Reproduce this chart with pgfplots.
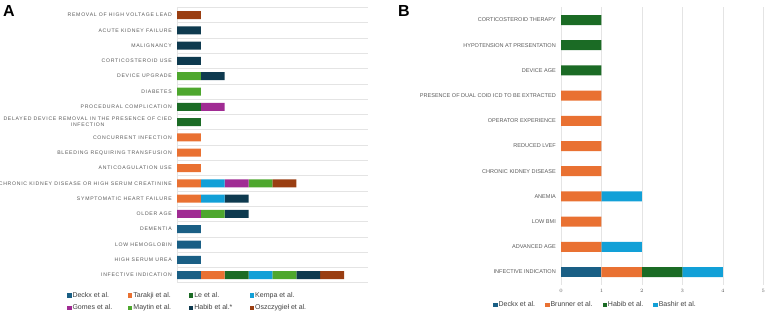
\documentclass[border=0pt]{standalone}
\usepackage{fontspec}
\setmainfont{Liberation Sans}
\newfontfamily\spaced[LetterSpace=14]{Liberation Sans}
\usepackage{pgfplots}
\usepackage{pgfplotstable}
\pgfplotsset{compat=1.18}
\definecolor{cDeckx}{HTML}{1A5F85}
\definecolor{cOrange}{HTML}{E97132}
\definecolor{cLe}{HTML}{1B6B25}
\definecolor{cKempa}{HTML}{12A0D7}
\definecolor{cGomes}{HTML}{A02B93}
\definecolor{cMaytin}{HTML}{4EA72E}
\definecolor{cHabib}{HTML}{0E3A4F}
\definecolor{cOsz}{HTML}{9A3E12}
\definecolor{labgray}{HTML}{595959}
\definecolor{leggray}{HTML}{404040}
\definecolor{gridgray}{HTML}{E4E4E4}

\pgfplotstableread{
y D T L K G M H O
0 1 1 1 1 0 1 1 1
1 1 0 0 0 0 0 0 0
2 1 0 0 0 0 0 0 0
3 1 0 0 0 0 0 0 0
4 0 0 0 0 1 1 1 0
5 0 1 0 1 0 0 1 0
6 0 1 0 1 1 1 0 1
7 0 1 0 0 0 0 0 0
8 0 1 0 0 0 0 0 0
9 0 1 0 0 0 0 0 0
10 0 0 1 0 0 0 0 0
11 0 0 1 0 1 0 0 0
12 0 0 0 0 0 1 0 0
13 0 0 0 0 0 1 1 0
14 0 0 0 0 0 0 1 0
15 0 0 0 0 0 0 1 0
16 0 0 0 0 0 0 1 0
17 0 0 0 0 0 0 0 1
}\tabA

\pgfplotstableread{
y D B H S
0 1 1 1 1
1 0 1 0 1
2 0 1 0 0
3 0 1 0 1
4 0 1 0 0
5 0 1 0 0
6 0 1 0 0
7 0 1 0 0
8 0 0 1 0
9 0 0 1 0
10 0 0 1 0
}\tabB

\begin{document}
\begin{tikzpicture}
\useasboundingbox (0pt,0pt) rectangle (765pt,-311pt);
\node[anchor=north west,inner sep=0pt,font=\fontsize{16}{16}\selectfont\bfseries] at (3pt,-5pt) {A};
\node[anchor=north west,inner sep=0pt,font=\fontsize{16}{16}\selectfont\bfseries] at (398pt,-5pt) {B};

\begin{axis}[
  at={(177pt,-282.75pt)}, anchor=south west,
  scale only axis, width=191pt, height=275.4pt,
  xbar stacked, bar width=8pt,
  xmin=0, xmax=8, ymin=-0.5, ymax=17.5,
  axis lines*=left,
  x axis line style={draw=none},
  y axis line style={draw=gridgray},
  xtick=\empty,
  ytick={0,...,17},
  yticklabels={INFECTIVE INDICATION, HIGH SERUM UREA, LOW HEMOGLOBIN, DEMENTIA, OLDER AGE, SYMPTOMATIC HEART FAILURE, CHRONIC KIDNEY DISEASE OR HIGH SERUM CREATININE, ANTICOAGULATION USE, BLEEDING REQUIRING TRANSFUSION, CONCURRENT INFECTION, {DELAYED DEVICE REMOVAL IN THE PRESENCE OF CIED\\INFECTION}, PROCEDURAL COMPLICATION, DIABETES, DEVICE UPGRADE, CORTICOSTEROID USE, MALIGNANCY, ACUTE KIDNEY FAILURE, REMOVAL OF HIGH VOLTAGE LEAD},
  yticklabel style={font=\spaced\fontsize{5.15}{6}\selectfont, text=labgray, align=center, inner xsep=0pt, xshift=-5pt},
  major tick length=0pt,
  minor ytick={-0.5,0.5,...,17.5},
  yminorgrids, minor grid style={draw=gridgray, line width=0.6pt},
  minor tick length=0pt,
  every axis plot/.append style={draw=none},
  legend columns=4,
  legend style={at={(axis description cs:-0.592,-0.022)}, anchor=north west, draw=none, fill=none,
    font=\fontsize{7}{8}\selectfont, text=leggray, row sep=4pt,
    /tikz/every odd column/.append style={column sep=0pt},
    /tikz/every even column/.append style={column sep=0pt},
    nodes={inner xsep=1pt, inner ysep=1pt}},
  legend cell align=left,
  legend image code/.code={\fill[#1] (0pt,-2.2pt) rectangle (4.4pt,2.2pt);},
]
\addplot[fill=cDeckx] table[x=D,y=y] {\tabA}; \addlegendentry{\makebox[54.5pt][l]{Deckx et al.}}
\addplot[fill=cOrange] table[x=T,y=y] {\tabA}; \addlegendentry{\makebox[54.5pt][l]{Tarakji et al.}}
\addplot[fill=cLe] table[x=L,y=y] {\tabA}; \addlegendentry{\makebox[54.5pt][l]{Le et al.}}
\addplot[fill=cKempa] table[x=K,y=y] {\tabA}; \addlegendentry{\makebox[54.5pt][l]{Kempa et al.}}
\addplot[fill=cGomes] table[x=G,y=y] {\tabA}; \addlegendentry{\makebox[54.5pt][l]{Gomes et al.}}
\addplot[fill=cMaytin] table[x=M,y=y] {\tabA}; \addlegendentry{\makebox[54.5pt][l]{Maytin et al.}}
\addplot[fill=cHabib] table[x=H,y=y] {\tabA}; \addlegendentry{\makebox[54.5pt][l]{Habib et al.*}}
\addplot[fill=cOsz] table[x=O,y=y] {\tabA}; \addlegendentry{\makebox[54.5pt][l]{Oszczygieł et al.}}
\end{axis}

\begin{axis}[
  at={(561pt,-284.6pt)}, anchor=south west,
  scale only axis, width=202.3pt, height=277.2pt,
  xbar stacked, bar width=10pt,
  xmin=0, xmax=5, ymin=-0.5, ymax=10.5,
  axis line style={draw=none},
  xtick={0,...,5},
  xmajorgrids, major grid style={draw=gridgray, line width=0.6pt},
  xticklabel style={font=\fontsize{4}{5}\selectfont, text=labgray, yshift=-1pt},
  ytick={0,...,10},
  yticklabels={INFECTIVE INDICATION, ADVANCED AGE, LOW BMI, ANEMIA, CHRONIC KIDNEY DISEASE, REDUCED LVEF, OPERATOR EXPERIENCE, PRESENCE OF DUAL COID ICD TO BE EXTRACTED, DEVICE AGE, HYPOTENSION AT PRESENTATION, CORTICOSTEROID THERAPY},
  yticklabel style={font=\fontsize{5.55}{6}\selectfont, text=labgray, inner xsep=0pt, xshift=-5pt},
  major tick length=0pt,
  every axis plot/.append style={draw=none},
  legend columns=4,
  legend style={at={(axis description cs:-0.351,-0.05)}, anchor=north west, draw=none, fill=none,
    font=\fontsize{7}{8}\selectfont, text=leggray,
    /tikz/every even column/.append style={column sep=9pt},
    nodes={inner xsep=1pt, inner ysep=1pt}},
  legend image code/.code={\fill[#1] (0pt,-2.2pt) rectangle (4.4pt,2.2pt);},
]
\addplot[fill=cDeckx] table[x=D,y=y] {\tabB}; \addlegendentry{Deckx et al.}
\addplot[fill=cOrange] table[x=B,y=y] {\tabB}; \addlegendentry{Brunner et al.}
\addplot[fill=cLe] table[x=H,y=y] {\tabB}; \addlegendentry{Habib et al.}
\addplot[fill=cKempa] table[x=S,y=y] {\tabB}; \addlegendentry{Bashir et al.}
\end{axis}
\end{tikzpicture}
\end{document}
